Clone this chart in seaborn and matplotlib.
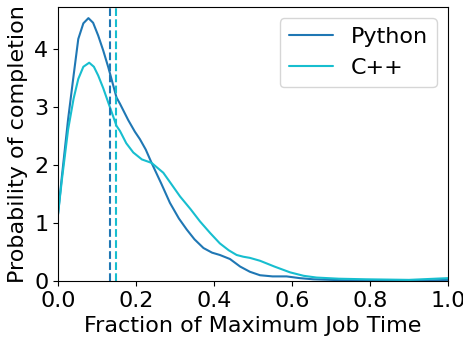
import matplotlib
matplotlib.use("Agg")
import matplotlib.pyplot as plt
import seaborn as sns
import pandas as pd
import numpy as np

sns.set_style("ticks", rc={"axes.edgecolor": "black", "text.color": "black",
                           "xtick.color": "black", "ytick.color": "black",
                           "axes.labelcolor": "black"})
plt.rcParams['font.family'] = ['DejaVu Sans']

py_x = [0.0, 0.01, 0.026, 0.04, 0.052, 0.065, 0.078, 0.09, 0.103, 0.116, 0.129, 0.15, 0.159,
        0.18, 0.197, 0.21, 0.225, 0.24, 0.265, 0.287, 0.31, 0.33, 0.35, 0.373, 0.395, 0.415, 0.441,
        0.467, 0.492, 0.518, 0.55, 0.586, 0.62, 0.654, 0.7, 0.75, 0.85, 0.95, 1.0]
py_y = [1.15, 1.81, 2.80, 3.55, 4.18, 4.45, 4.54, 4.46, 4.24, 3.98, 3.69, 3.17, 3.06,
        2.78, 2.58, 2.45, 2.27, 2.04, 1.68, 1.35, 1.08, 0.89, 0.72, 0.57, 0.49, 0.45, 0.38,
        0.25, 0.16, 0.10, 0.08, 0.08, 0.05, 0.03, 0.02, 0.01, 0.0, 0.01, 0.02]

cpp_x = [0.0, 0.01, 0.026, 0.04, 0.052, 0.065, 0.08, 0.092, 0.103, 0.116, 0.129, 0.15, 0.159,
         0.175, 0.193, 0.215, 0.24, 0.27, 0.29, 0.313, 0.34, 0.364, 0.39, 0.415, 0.438, 0.458,
         0.475, 0.492, 0.518, 0.555, 0.595, 0.63, 0.663, 0.72, 0.79, 0.9, 1.0]
cpp_y = [1.15, 1.75, 2.62, 3.15, 3.49, 3.70, 3.77, 3.70, 3.55, 3.33, 3.08, 2.68, 2.59,
         2.38, 2.22, 2.10, 2.04, 1.87, 1.68, 1.46, 1.24, 1.03, 0.83, 0.65, 0.53, 0.45,
         0.42, 0.40, 0.35, 0.25, 0.15, 0.09, 0.06, 0.04, 0.03, 0.02, 0.05]

languages = ["Python", "C++"]
medians = [0.133, 0.149]
colors = ["#1f77b4", "#17becf"]

df = pd.concat([
    pd.DataFrame({"x": py_x, "y": py_y, "lang": "Python"}),
    pd.DataFrame({"x": cpp_x, "y": cpp_y, "lang": "C++"}),
])

fig = plt.figure(figsize=(4.64, 3.39), dpi=100)
ax = fig.add_axes([0.125, 0.171, 0.8405, 0.808])
sns.lineplot(data=df, x="x", y="y", hue="lang", hue_order=languages,
             palette=colors, ax=ax, linewidth=1.5, sort=False)
for m, c in zip(medians, colors):
    ax.axvline(m, color=c, linestyle="--", linewidth=1.5)

ax.set_xlim(0, 1)
ax.set_ylim(0, 4.73)
ax.set_xticks([0, 0.2, 0.4, 0.6, 0.8, 1.0])
ax.set_yticks([0, 1, 2, 3, 4])
ax.tick_params(labelsize=16)
ax.set_xlabel("Fraction of Maximum Job Time", fontsize=16)
ax.set_ylabel("Probability of completion", fontsize=16)
leg = ax.legend(fontsize=16, loc="upper right")
leg.set_title(None)
fig.savefig("out.png", dpi=100)
